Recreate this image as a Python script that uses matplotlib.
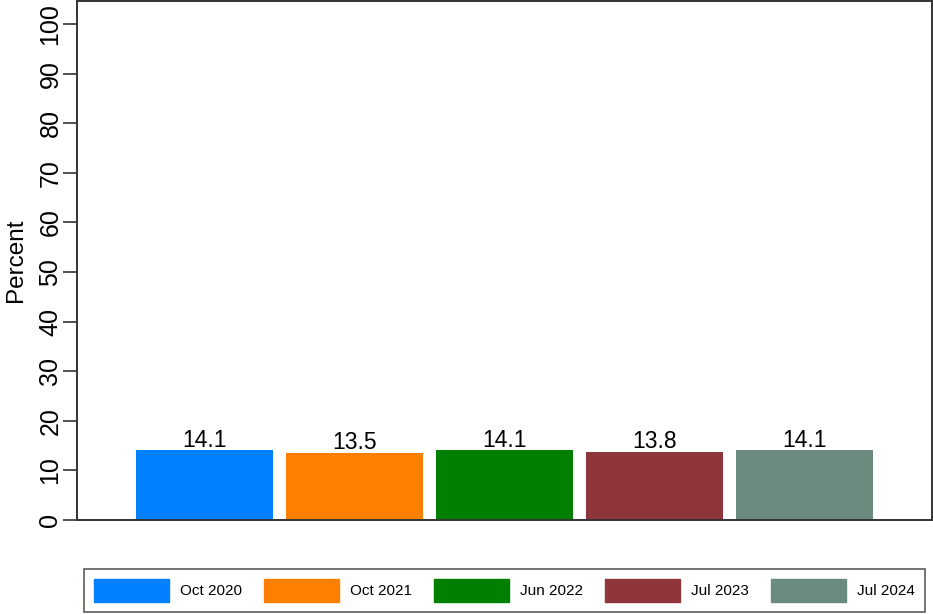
import matplotlib.pyplot as plt
import matplotlib.patches as mpatches

plt.rcParams['font.family'] = ['Liberation Sans', 'DejaVu Sans']

# data
periods = ['Oct 2020', 'Oct 2021', 'Jun 2022', 'Jul 2023', 'Jul 2024']
values = [14.1, 13.5, 14.1, 13.8, 14.1]
colors = ['#0080ff', '#ff8000', '#007f00', '#8f353c', '#6b8b7f']
yticks = list(range(0, 101, 10))

fig = plt.figure(figsize=(9.33, 6.14), dpi=100)
ax = fig.add_axes([0.0825, 0.153, 0.9165, 0.845])

x = list(range(len(periods)))
bars = ax.bar(x, values, width=0.913, color=colors, edgecolor='none')

for xi, v in zip(x, values):
    ax.annotate(f'{v:.1f}', (xi, v), xytext=(0, -1), textcoords='offset points',
                ha='center', va='bottom', fontsize=16.5)

ax.set_xlim(-0.85, 4.85)
ax.set_ylim(0, 104.6)
ax.set_yticks(yticks)
ax.set_yticklabels([str(t) for t in yticks], rotation=90, va='center', fontsize=18)
ax.set_xticks([])
ax.set_ylabel('Percent', fontsize=17.5, labelpad=8)
ax.tick_params(axis='y', length=10, width=1.2, color='#333333', pad=0.5)

for s in ax.spines.values():
    s.set_color('#333333')
    s.set_linewidth(1.4)

handles = [mpatches.Patch(color=c, label=p) for c, p in zip(colors, periods)]
leg = fig.legend(handles=handles, loc='lower center', ncol=5,
                 bbox_to_anchor=(0.5407, 0.0), fontsize=11,
                 handlelength=4.9, handleheight=1.9, handletextpad=0.72,
                 columnspacing=1.45, frameon=True, fancybox=False,
                 borderpad=0.65, borderaxespad=0.15)
leg.get_frame().set_edgecolor('#333333')
leg.get_frame().set_linewidth(1.2)

fig.savefig('out.png', dpi=100)
